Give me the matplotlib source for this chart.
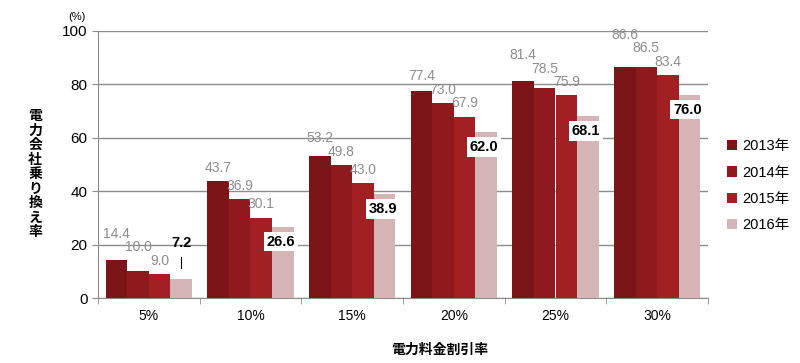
import matplotlib
matplotlib.use('Agg')
import matplotlib.pyplot as plt
import numpy as np

plt.rcParams['font.family'] = ['Liberation Sans', 'Noto Sans CJK JP', 'DejaVu Sans']

categories = ['5%', '10%', '15%', '20%', '25%', '30%']
years = ['2013年', '2014年', '2015年', '2016年']
v2013 = [14.4, 43.7, 53.2, 77.4, 81.4, 86.6]
v2014 = [10.0, 36.9, 49.8, 73.0, 78.5, 86.5]
v2015 = [9.0, 30.1, 43.0, 67.9, 75.9, 83.4]
v2016 = [7.2, 26.6, 38.9, 62.0, 68.1, 76.0]
series = [v2013, v2014, v2015, v2016]
colors = ['#7b1517', '#8e1a1d', '#a21f23', '#d5b4b5']

fig = plt.figure(figsize=(8, 3.63), dpi=100)
ax = fig.add_axes([0.1225, 0.179, 0.7625, 0.736])

x = np.arange(len(categories))
w = 0.2125
for i, vals in enumerate(series):
    ax.bar(x + (i - 1.5) * w, vals, w, color=colors[i], label=years[i], zorder=3)

# gray labels for 2013-2015, stacked so each sits above its right neighbour
for j in range(len(categories)):
    prev = -np.inf
    for i in (2, 1, 0):
        v = series[i][j]
        y = max(v + 5, prev + 5)
        prev = y
        ax.text(x[j] + (i - 1.5) * w, y, f'{v:.1f}', ha='center', va='center',
                color='#8c8c8c', fontsize=10, zorder=4)

# bold boxed labels for 2016
for p, v in zip(x + 1.5 * w, v2016):
    if v < 15:
        ax.text(p, v + 13.5, f'{v:.1f}', ha='center', va='center',
                fontsize=10.5, fontweight='bold', color='black', zorder=4)
        ax.plot([p, p], [v + 4, v + 8], color='black', lw=0.8, zorder=4)
    else:
        ax.text(p - 0.02, v - 5.5, f'{v:.1f}', ha='center', va='center',
                fontsize=10.5, fontweight='bold', color='black', zorder=5,
                bbox=dict(facecolor='white', edgecolor='none', pad=2))

ax.set_xlim(-0.5, len(categories) - 0.5)
ax.set_ylim(0, 100)
ax.set_yticks(np.arange(0, 101, 20))
ax.yaxis.grid(True, color='#8c8c8c', lw=1, zorder=0)
ax.set_xticks(x)
ax.set_xticklabels(categories, fontsize=10)
ax.set_xticks(np.arange(-0.5, len(categories), 1), minor=True)
ax.tick_params(axis='x', which='major', length=0, pad=8)
ax.tick_params(axis='x', which='minor', length=4, color='#8c8c8c')
ax.tick_params(axis='y', length=4, color='#8c8c8c', labelsize=11)
for s in ['top', 'right']:
    ax.spines[s].set_visible(False)
for s in ['left', 'bottom']:
    ax.spines[s].set_color('#8c8c8c')

fig.text(0.096, 0.94, '(%)', fontsize=8, ha='center', va='bottom')
fig.text(0.044, 0.52, '\n'.join('電力会社乗り換え率'), fontsize=10, fontweight='bold',
         ha='center', va='center', linespacing=1.05)
fig.text(0.55, 0.035, '電力料金割引率', fontsize=10, fontweight='bold', ha='center', va='center')

ax.legend(loc='center left', bbox_to_anchor=(1.01, 0.42), frameon=False, fontsize=10.5,
          handlelength=0.7, handleheight=0.7, handletextpad=0.3, labelspacing=0.85)

fig.savefig('out.png', dpi=100)
